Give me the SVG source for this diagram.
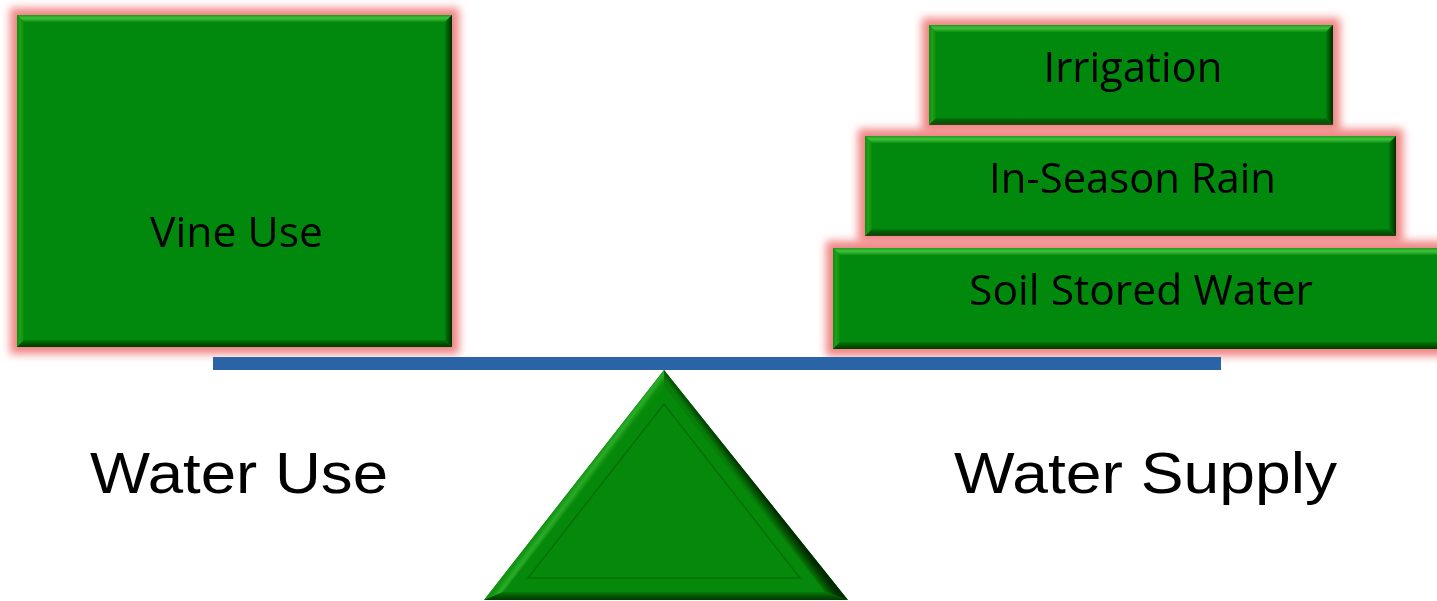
<svg xmlns="http://www.w3.org/2000/svg" width="1437" height="601" viewBox="0 0 1437 601">
  <style>
    .face { fill: #06890a; }
    .lbl { font-family: "Open Sans", "Liberation Sans", sans-serif; font-size: 42px; fill: #000; text-anchor: middle; }
    .side { font-family: "Liberation Sans", Arial, sans-serif; font-size: 57px; fill: #000; }
    .bt { fill: url(#bevTop); }
    .bl { fill: url(#bevLeft); }
    .br { fill: url(#bevRight); }
    .bb { fill: url(#bevBottom); }
  </style>
  <defs>
    <!-- soft pink halo around each block -->
    <filter id="glow" x="-10%" y="-30%" width="120%" height="160%">
      <feMorphology in="SourceAlpha" operator="dilate" radius="7" result="d"/>
      <feGaussianBlur in="d" stdDeviation="4" result="b"/>
      <feFlood flood-color="#f08484"/>
      <feComposite in2="b" operator="in" result="g"/>
      <feMerge><feMergeNode in="g"/><feMergeNode in="SourceGraphic"/></feMerge>
    </filter>
    <!-- bevel shading -->
    <linearGradient id="bevTop" x1="0" y1="0" x2="0" y2="1">
      <stop offset="0" stop-color="#1c9a1c"/>
      <stop offset="0.45" stop-color="#3fc23f"/>
      <stop offset="1" stop-color="#0c8f0c"/>
    </linearGradient>
    <linearGradient id="bevLeft" x1="0" y1="0" x2="1" y2="0">
      <stop offset="0" stop-color="#0e900e"/>
      <stop offset="0.5" stop-color="#1ea01e"/>
      <stop offset="1" stop-color="#088a0a"/>
    </linearGradient>
    <linearGradient id="bevRight" x1="0" y1="0" x2="1" y2="0">
      <stop offset="0" stop-color="#067d08"/>
      <stop offset="0.6" stop-color="#034c04"/>
      <stop offset="1" stop-color="#012e01"/>
    </linearGradient>
    <linearGradient id="bevBottom" x1="0" y1="0" x2="0" y2="1">
      <stop offset="0" stop-color="#067a08"/>
      <stop offset="0.6" stop-color="#035003"/>
      <stop offset="1" stop-color="#023a02"/>
    </linearGradient>
    <!-- fulcrum edges: shading runs across each sloped edge -->
    <linearGradient id="triLeft" gradientUnits="userSpaceOnUse" x1="582" y1="491" x2="574" y2="485">
      <stop offset="0" stop-color="#0a8c0a"/>
      <stop offset="0.5" stop-color="#2aac2a"/>
      <stop offset="1" stop-color="#129412"/>
    </linearGradient>
    <linearGradient id="triRight" gradientUnits="userSpaceOnUse" x1="748" y1="491" x2="756" y2="485">
      <stop offset="0" stop-color="#067e08"/>
      <stop offset="0.6" stop-color="#034a03"/>
      <stop offset="1" stop-color="#012c01"/>
    </linearGradient>
  </defs>

  <!-- Vine Use -->
  <g id="vine-use" filter="url(#glow)">
    <rect class="face" x="17" y="15" width="435" height="332"/>
    <polygon class="bt" points="17,15 452,15 445,22 24,22"/>
    <polygon class="bl" points="17,15 24,22 24,340 17,347"/>
    <polygon class="br" points="452,15 445,22 445,340 452,347"/>
    <polygon class="bb" points="17,347 452,347 445,340 24,340"/>
    <text class="lbl" x="236.5" y="247" font-size="44" textLength="173" lengthAdjust="spacingAndGlyphs">Vine Use</text>
  </g>

  <!-- Irrigation -->
  <g id="irrigation" filter="url(#glow)">
    <rect class="face" x="929" y="25" width="404" height="100"/>
    <polygon class="bt" points="929,25 1333,25 1326,32 936,32"/>
    <polygon class="bl" points="929,25 936,32 936,118 929,125"/>
    <polygon class="br" points="1333,25 1326,32 1326,118 1333,125"/>
    <polygon class="bb" points="929,125 1333,125 1326,118 936,118"/>
    <text class="lbl" x="1133" y="82" textLength="179" lengthAdjust="spacingAndGlyphs">Irrigation</text>
  </g>

  <!-- In-Season Rain -->
  <g id="in-season-rain" filter="url(#glow)">
    <rect class="face" x="865" y="136" width="531" height="100"/>
    <polygon class="bt" points="865,136 1396,136 1389,143 872,143"/>
    <polygon class="bl" points="865,136 872,143 872,229 865,236"/>
    <polygon class="br" points="1396,136 1389,143 1389,229 1396,236"/>
    <polygon class="bb" points="865,236 1396,236 1389,229 872,229"/>
    <text class="lbl" x="1132.5" y="193" textLength="287" lengthAdjust="spacingAndGlyphs">In-Season Rain</text>
  </g>

  <!-- Soil Stored Water -->
  <g id="soil-stored-water" filter="url(#glow)">
    <rect class="face" x="833" y="248" width="616" height="101"/>
    <polygon class="bt" points="833,248 1449,248 1442,255 840,255"/>
    <polygon class="bl" points="833,248 840,255 840,342 833,349"/>
    <polygon class="br" points="1449,248 1442,255 1442,342 1449,349"/>
    <polygon class="bb" points="833,349 1449,349 1442,342 840,342"/>
    <text class="lbl" x="1141" y="305" textLength="344" lengthAdjust="spacingAndGlyphs">Soil Stored Water</text>
  </g>

  <!-- beam and fulcrum of the balance -->
  <g id="connectors">
    <g id="fulcrum">
      <polygon class="face" points="664,370 484,600 848,600"/>
      <polygon fill="url(#triLeft)" points="664,370 484,600 503,592 664,386"/>
      <polygon fill="url(#triRight)" points="664,370 848,600 825,592 664,386"/>
      <polygon class="bb" points="484,600 848,600 825,592 503,592"/>
      <polygon points="664,404 528,578 800,578" fill="none" stroke="#056a07" stroke-width="1.5" stroke-opacity="0.8"/>
    </g>
    <rect id="beam" x="213" y="357" width="1008" height="13" fill="#2b63a7"/>
  </g>

  <g id="side-labels">
    <text class="side" x="90" y="493" textLength="298" lengthAdjust="spacingAndGlyphs">Water Use</text>
    <text class="side" x="954" y="493" textLength="383" lengthAdjust="spacingAndGlyphs">Water Supply</text>
  </g>
</svg>
